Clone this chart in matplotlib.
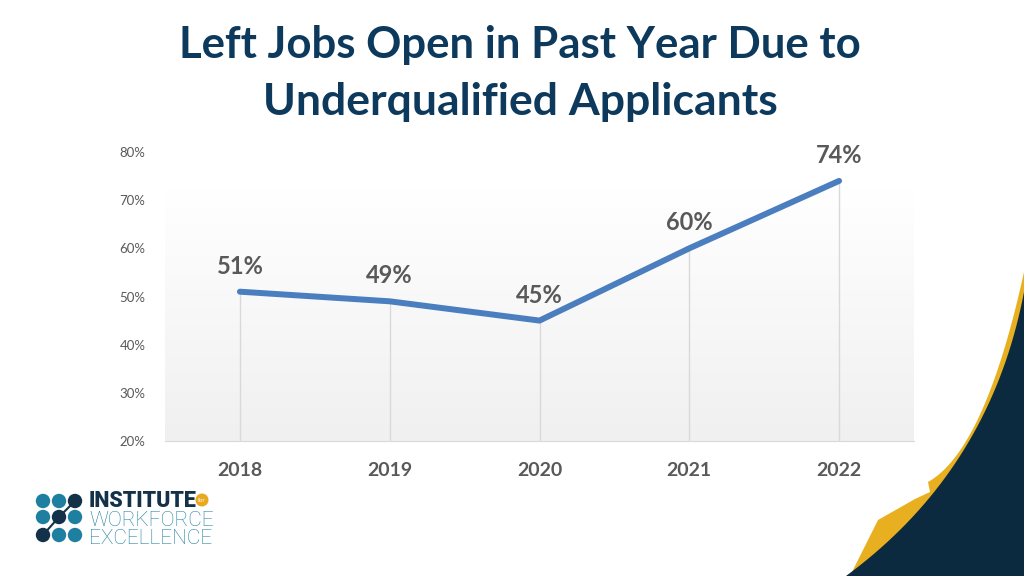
import numpy as np
import matplotlib
matplotlib.use("Agg")
import matplotlib.pyplot as plt
from matplotlib.patches import Polygon, Circle

# data
years = ["2018", "2019", "2020", "2021", "2022"]
share = [0.51, 0.49, 0.45, 0.60, 0.74]
yticks = [0.2, 0.3, 0.4, 0.5, 0.6, 0.7, 0.8]

navy = "#0d3a5c"
grey_txt = "#595959"
line_col = "#4a7ebe"


def bezier(p0, c, p2, n=40):
    t = np.linspace(0, 1, n)[:, None]
    p0, c, p2 = map(np.array, (p0, c, p2))
    return (1 - t) ** 2 * p0 + 2 * t * (1 - t) * c + t ** 2 * p2


fig = plt.figure(figsize=(10.24, 5.76), dpi=100)
fig.patch.set_facecolor("white")

# background layer for decorations (pixel coords)
bg = fig.add_axes([0, 0, 1, 1])
bg.set_xlim(0, 1024)
bg.set_ylim(576, 0)
bg.axis("off")

# swoosh bottom right
gold_top = bezier((1024, 272), (985, 450), (928, 482))
gold_pts = np.vstack([gold_top, [(930, 492), (915, 499), (878, 520),
                                 (868, 540), (850, 576), (1024, 576)]])
bg.add_patch(Polygon(gold_pts, closed=True, facecolor="#e8b020", edgecolor="none"))
navy_edge = bezier((1024, 292), (990, 470), (846, 576))
navy_pts = np.vstack([navy_edge, [(1024, 576)]])
bg.add_patch(Polygon(navy_pts, closed=True, facecolor="#0b2a3f", edgecolor="none"))

# logo
teal = "#1f7fa0"
dark = "#13324a"
dot_x = [43, 59, 75]
dot_y = [501, 517, 535]
dot_cols = [[teal, teal, dark], [teal, dark, teal], [dark, teal, teal]]
bg.plot([dot_x[0], dot_x[1], dot_x[2]], [dot_y[2], dot_y[1], dot_y[0]],
        color=dark, lw=1.5, zorder=2)
for i, yy in enumerate(dot_y):
    for j, xx in enumerate(dot_x):
        bg.add_patch(Circle((xx, yy), 7.2, facecolor=dot_cols[i][j],
                            edgecolor="none", zorder=3))
bg.text(89, 501, "INSTITUTE", fontsize=15.5, fontweight="heavy", color=dark,
        family="Roboto", va="center", ha="left")
bg.add_patch(Circle((202, 500), 6.5, facecolor="#e8a820", edgecolor="none"))
bg.text(202, 500, "for", fontsize=4, color="white", ha="center", va="center")
bg.text(89, 520, "WORKFORCE", fontsize=15, fontweight="light", color=teal,
        family="Roboto", va="center", ha="left")
bg.text(89, 538, "EXCELLENCE", fontsize=15, fontweight="light", color=teal,
        family="Roboto", va="center", ha="left")

# title
fig.text(0.508, 0.922, "Left Jobs Open in Past Year Due to", fontsize=31.5,
         fontweight="bold", color=navy, ha="center", va="center", family="Lato")
fig.text(0.508, 0.823, "Underqualified Applicants", fontsize=32,
         fontweight="bold", color=navy, ha="center", va="center", family="Lato")

# chart
ax = fig.add_axes([165 / 1024, 1 - 441 / 576, 749 / 1024, 289 / 576])
ax.set_facecolor("none")
x = np.arange(len(years))
ax.set_xlim(-0.5, len(years) - 0.5)
ax.set_ylim(0.2, 0.8)

# faint gradient plot area
grad = np.linspace(0, 1, 256).reshape(-1, 1)
ax.imshow(grad, extent=[-0.5, len(years) - 0.5, 0.2, 0.72], aspect="auto",
          cmap=matplotlib.colors.LinearSegmentedColormap.from_list(
              "g", ["#ffffff", "#f0f0f0"]), vmin=0, vmax=1, zorder=0)

ax.vlines(x, 0.2, share, color="#d9d9d9", lw=1, zorder=1)
ax.plot(x, share, color=line_col, lw=4.3, solid_capstyle="round",
        solid_joinstyle="round", zorder=3)
for xi, v in zip(x, share):
    ax.annotate(f"{v:.0%}", (xi, v), xytext=(0, 10), textcoords="offset points",
                ha="center", va="bottom", fontsize=17, fontweight="bold",
                color=grey_txt, family="Lato")

for s in ["top", "right", "left"]:
    ax.spines[s].set_visible(False)
ax.spines["bottom"].set_color("#d9d9d9")
ax.set_yticks(yticks)
ax.set_yticklabels([f"{t:.0%}" for t in yticks], fontsize=9.5,
                   color=grey_txt, family="Lato")
ax.set_xticks(x)
ax.set_xticklabels(years, fontsize=14, fontweight="bold", color=grey_txt,
                   family="Lato")
ax.tick_params(axis="both", length=0)
ax.tick_params(axis="y", pad=14)
ax.tick_params(axis="x", pad=15)

fig.savefig("out.png", dpi=100)
